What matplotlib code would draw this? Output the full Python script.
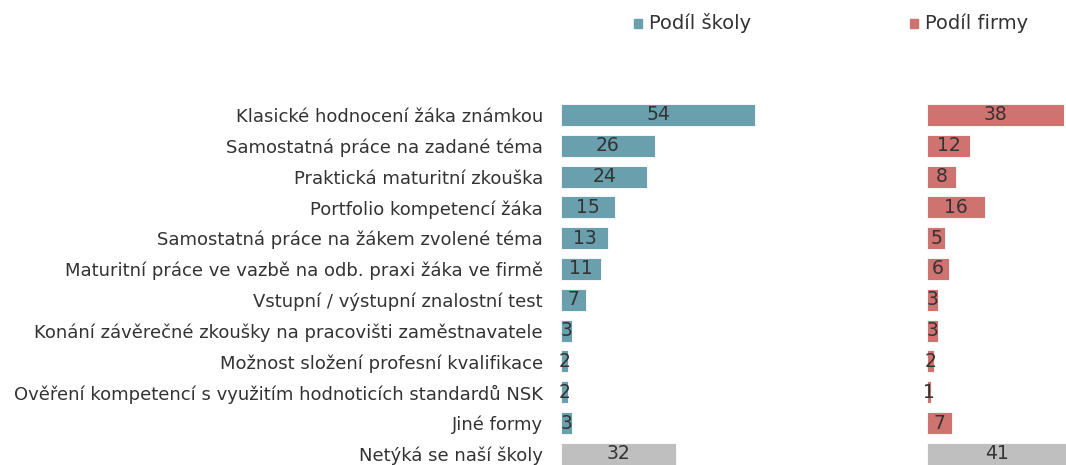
import matplotlib

matplotlib.use("Agg")
import matplotlib.pyplot as plt
from matplotlib.patches import Rectangle

plt.rcParams["font.family"] = ["DejaVu Sans"]

categories = [
    "Klasické hodnocení žáka známkou",
    "Samostatná práce na zadané téma",
    "Praktická maturitní zkouška",
    "Portfolio kompetencí žáka",
    "Samostatná práce na žákem zvolené téma",
    "Maturitní práce ve vazbě na odb. praxi žáka ve firmě",
    "Vstupní / výstupní znalostní test",
    "Konání závěrečné zkoušky na pracovišti zaměstnavatele",
    "Možnost složení profesní kvalifikace",
    "Ověření kompetencí s využitím hodnoticích standardů NSK",
    "Jiné formy",
    "Netýká se naší školy",
]
skola = [54, 26, 24, 15, 13, 11, 7, 3, 2, 2, 3, 32]
firma = [38, 12, 8, 16, 5, 6, 3, 3, 2, 1, 7, 41]
series_names = ["Podíl školy", "Podíl firmy"]

TEAL = "#6a9fad"
RED = "#cf7370"
GRAY = "#bfbfbf"
TEXT = "#333333"

W, H = 1066, 465
fig = plt.figure(figsize=(W / 100, H / 100), dpi=100)

px_per_unit = 3.6
row = 30.8
n = len(categories)
top_px = 115 - row / 2
bottom_px = top_px + n * row


def make_axes(x0_px, width_px):
    ax = fig.add_axes([x0_px / W, 1 - bottom_px / H, width_px / W, n * row / H])
    ax.set_xlim(0, width_px / px_per_unit)
    ax.set_ylim(n - 0.5, -0.5)
    for s in ax.spines.values():
        s.set_visible(False)
    ax.tick_params(length=0)
    ax.set_xticks([])
    return ax


ax1 = make_axes(561, 220)
ax2 = make_axes(927, W - 927)

for ax, vals, color in ((ax1, skola, TEAL), (ax2, firma, RED)):
    colors = [color] * (n - 1) + [GRAY]
    bars = ax.barh(range(n), vals, height=0.72, color=colors, edgecolor="white", linewidth=0.6)
    ax.bar_label(bars, labels=[str(v) for v in vals], label_type="center",
                 fontsize=13.5, color=TEXT)

ax1.set_yticks(range(n))
ax1.set_yticklabels(categories, fontsize=13, color=TEXT)
ax1.tick_params(axis="y", pad=13)
ax2.set_yticks([])

# legend
for x_px, name, color in ((634, series_names[0], TEAL), (910, series_names[1], RED)):
    fig.add_artist(Rectangle((x_px / W, 1 - 28 / H), 8 / W, 9 / H,
                             transform=fig.transFigure, color=color))
    fig.text((x_px + 15) / W, 1 - 23 / H, name, fontsize=14, color=TEXT, va="center")

fig.savefig("out.png", dpi=100)
